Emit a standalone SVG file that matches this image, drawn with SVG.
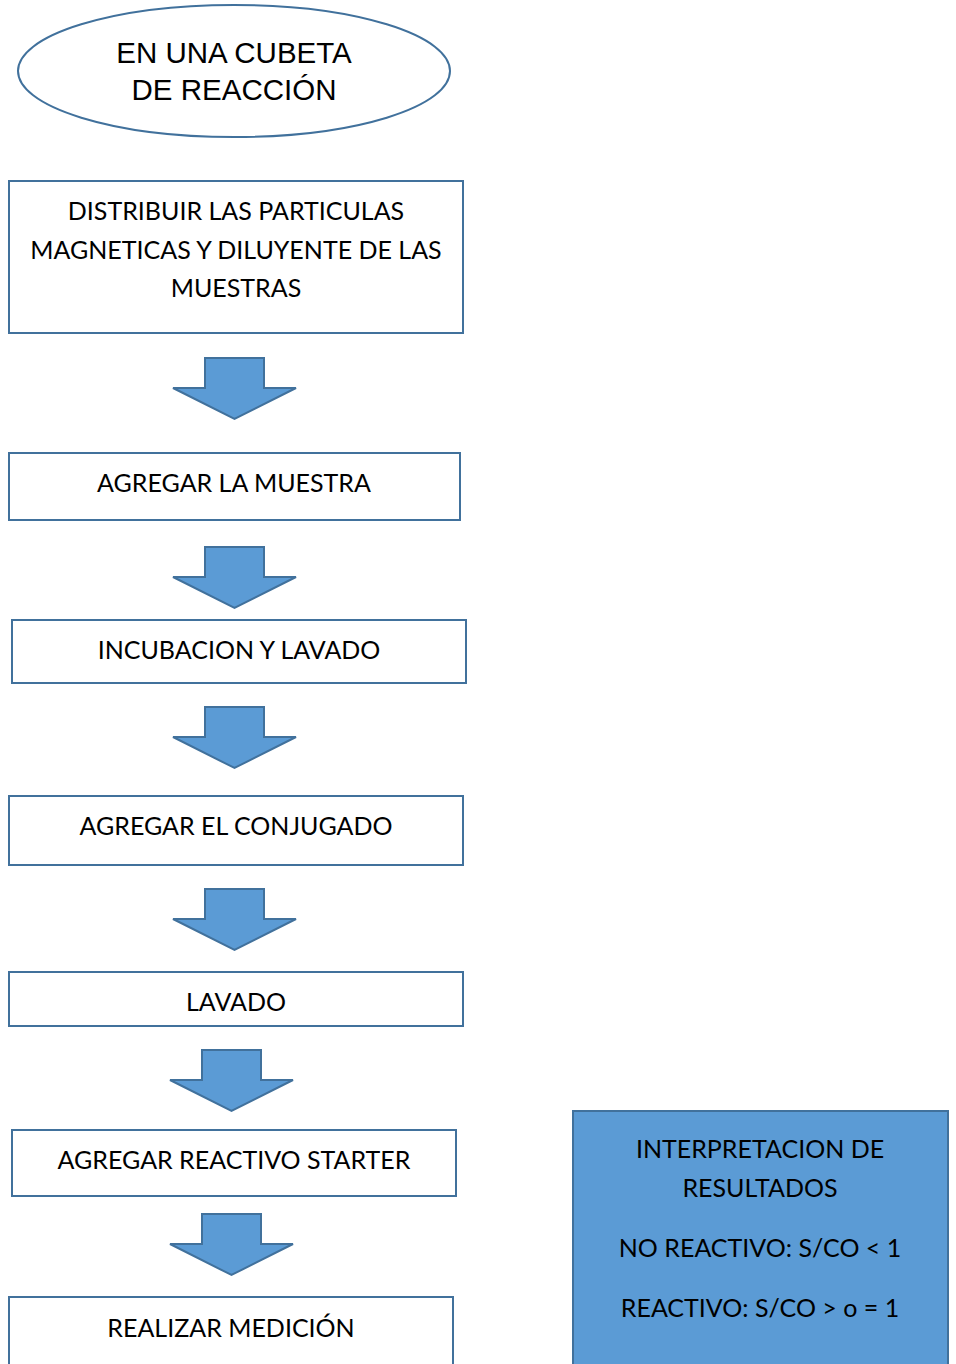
<svg xmlns="http://www.w3.org/2000/svg" width="956" height="1364" viewBox="0 0 956 1364">
<style>
.box{fill:#fff;stroke:#41719C;stroke-width:2}
.blue{fill:#5B9BD5;stroke:#41719C;stroke-width:2}
.arr{fill:#5B9BD5;stroke:#41719C;stroke-width:2;stroke-linejoin:miter}
.t{font-family:Lato,"Open Sans",sans-serif;font-size:25px;fill:#000;text-anchor:middle}
.a{font-family:"Liberation Sans",Arial,sans-serif;font-size:29.5px;fill:#000;text-anchor:middle}
</style>
<rect width="956" height="1364" fill="#fff"/>
<g id="start">
<ellipse cx="234" cy="71" rx="216" ry="66" fill="#fff" stroke="#41719C" stroke-width="2"/>
<text class="a" x="234" y="63">EN UNA CUBETA</text>
<text class="a" x="234" y="100">DE REACCIÓN</text>
</g>
<g id="step1">
<rect class="box" x="9" y="181" width="454" height="152"/>
<text class="t" x="236" y="220">DISTRIBUIR LAS PARTICULAS</text>
<text class="t" x="236" y="259">MAGNETICAS Y DILUYENTE DE LAS</text>
<text class="t" x="236" y="297">MUESTRAS</text>
</g>
<g id="step2">
<rect class="box" x="9" y="453" width="451" height="67"/>
<text class="t" x="234" y="492">AGREGAR LA MUESTRA</text>
</g>
<g id="step3">
<rect class="box" x="12" y="620" width="454" height="63"/>
<text class="t" x="239" y="659">INCUBACION Y LAVADO</text>
</g>
<g id="step4">
<rect class="box" x="9" y="796" width="454" height="69"/>
<text class="t" x="236" y="835">AGREGAR EL CONJUGADO</text>
</g>
<g id="step5">
<rect class="box" x="9" y="972" width="454" height="54"/>
<text class="t" x="236" y="1011">LAVADO</text>
</g>
<g id="step6">
<rect class="box" x="12" y="1130" width="444" height="66"/>
<text class="t" x="234" y="1169">AGREGAR REACTIVO STARTER</text>
</g>
<g id="step7">
<rect class="box" x="9" y="1297" width="444" height="80"/>
<text class="t" x="231" y="1337">REALIZAR MEDICIÓN</text>
</g>
<g id="result">
<rect class="blue" x="573" y="1111" width="375" height="270"/>
<text class="t" x="760" y="1158">INTERPRETACION DE</text>
<text class="t" x="760" y="1197">RESULTADOS</text>
<text class="t" x="760" y="1257">NO REACTIVO: S/CO &lt; 1</text>
<text class="t" x="760" y="1317">REACTIVO: S/CO &gt; o = 1</text>
</g>
<g id="connectors">
<path class="arr" d="M205 358 H264 V388 H296 L234.5 419 L173 388 H205 Z"/>
<path class="arr" d="M205 547 H264 V577 H296 L234.5 608 L173 577 H205 Z"/>
<path class="arr" d="M205 707 H264 V737 H296 L234.5 768 L173 737 H205 Z"/>
<path class="arr" d="M205 889 H264 V919 H296 L234.5 950 L173 919 H205 Z"/>
<path class="arr" d="M202 1050 H261 V1080 H293 L231.5 1111 L170 1080 H202 Z"/>
<path class="arr" d="M202 1214 H261 V1244 H293 L231.5 1275 L170 1244 H202 Z"/>
</g>
</svg>
